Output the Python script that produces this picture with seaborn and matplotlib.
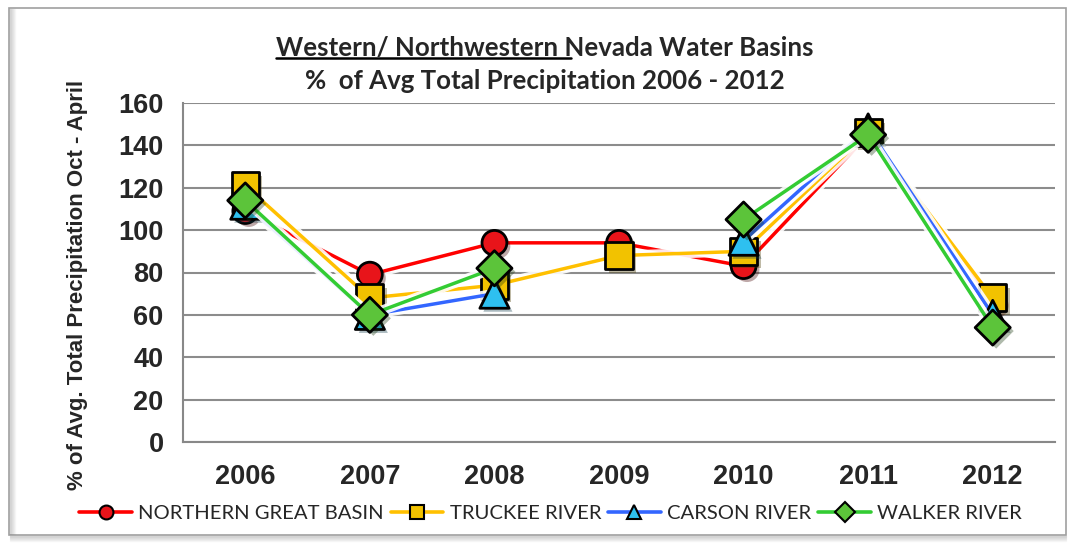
import numpy as np
import pandas as pd
import matplotlib
matplotlib.use("Agg")
import matplotlib.pyplot as plt
import matplotlib.patheffects as pe
from matplotlib.lines import Line2D
from matplotlib.patches import Rectangle
import seaborn as sns

# ---- data -------------------------------------------------------------
years = [2006, 2007, 2008, 2009, 2010, 2011, 2012]
northern_great_basin = [109, 79, 94, 94, 83, 145, 66]
truckee_river = [121, 68, 74, 88, 90, 146, 68]
carson_river = [112, 60, 70, np.nan, 95, 148, 60]
walker_river = [114, 60, 82, np.nan, 105, 145, 54]

series_names = ["NORTHERN GREAT BASIN", "TRUCKEE RIVER", "CARSON RIVER", "WALKER RIVER"]
series_values = [northern_great_basin, truckee_river, carson_river, walker_river]
y_ticks = [0, 20, 40, 60, 80, 100, 120, 140, 160]

# ---- styles -----------------------------------------------------------
line_colors = ["#FF0000", "#FFC000", "#3366FF", "#33CC33"]
face_colors = ["#E8141A", "#F2C200", "#2EC0F0", "#5CC43A"]
marker_shapes = ["o", "s", "^", "D"]
marker_sizes = [320, 380, 440, 320]

rows = []
for name, vals in zip(series_names, series_values):
    seg = 0
    prev_nan = False
    for yr, v in zip(years, vals):
        if np.isnan(v):
            prev_nan = True
            continue
        if prev_nan:
            seg += 1
            prev_nan = False
        rows.append({"series": name, "year": yr, "value": v, "seg": seg})
df = pd.DataFrame(rows)

sns.set_style("white")
plt.rcParams["font.family"] = ["Liberation Sans", "DejaVu Sans"]

fig = plt.figure(figsize=(10.73, 5.44), dpi=100)
fig.patch.set_facecolor("white")
ax = fig.add_axes([183 / 1073, 1 - 442 / 544, 872 / 1073, 339 / 544])

glow = [pe.Stroke(linewidth=7, foreground="white", alpha=0.9), pe.Normal()]

for i, name in enumerate(series_names):
    sub = df[df["series"] == name]
    sns.lineplot(data=sub, x="year", y="value", units="seg", estimator=None,
                 color=line_colors[i], linewidth=2.5, ax=ax, legend=False,
                 zorder=3 + 2 * i, path_effects=glow)
    sns.scatterplot(data=sub, x="year", y="value", marker=marker_shapes[i],
                    s=marker_sizes[i], color=face_colors[i], edgecolor="black",
                    linewidth=2.0, ax=ax, legend=False, zorder=4 + 2 * i,
                    path_effects=[pe.SimplePatchShadow(offset=(2.5, -2.5), alpha=0.35),
                                  pe.Normal()])

# ---- axes -------------------------------------------------------------
ax.set_xlim(2005.5, 2012.5)
ax.set_ylim(0, 160)
ax.set_yticks(y_ticks)
ax.set_yticklabels([str(t) for t in y_ticks], fontsize=19.5, fontweight="bold")
ax.set_xticks(years)
ax.set_xticklabels([str(y) for y in years], fontsize=19.5, fontweight="bold")
ax.set_xticks(np.arange(2005.5, 2013.0, 1.0), minor=True)
ax.tick_params(axis="x", which="major", length=0, pad=16)
ax.tick_params(axis="x", which="minor", length=6, width=1.5, color="#888888", direction="out")
ax.tick_params(axis="y", length=6, width=1.5, color="#888888", direction="out", pad=8)
ax.grid(axis="y", color="#8c8c8c", linewidth=1.5, zorder=0)
ax.set_axisbelow(True)
for side in ["top", "right"]:
    ax.spines[side].set_visible(False)
for side in ["left", "bottom"]:
    ax.spines[side].set_color("#888888")
    ax.spines[side].set_linewidth(1.5)
ax.set_xlabel("")
ax.set_ylabel("% of Avg. Total Precipitation Oct - April", fontsize=16,
              fontweight="bold")
ax.yaxis.set_label_coords((88 - 183) / 872, (442 - 285) / 339)

# ---- legend -----------------------------------------------------------
handles = [Line2D([0], [0], color=line_colors[i], linewidth=2.6,
                  marker=marker_shapes[i], markersize=10,
                  markerfacecolor=face_colors[i], markeredgecolor="black",
                  markeredgewidth=1.5)
           for i in range(len(series_names))]
fig.legend(handles, series_names, loc="center", bbox_to_anchor=(0.513, 0.056),
           ncol=4, frameon=False, handlelength=2.6, handletextpad=0.3,
           columnspacing=0.35, prop={"family": "Lato", "size": 14.6})

# ---- title ------------------------------------------------------------
title_font = {"family": "Lato", "weight": "bold", "size": 18.6}
prefix = "Western/ Northwestern "
line1 = prefix + "Nevada Water Basins"
t1 = fig.text(545 / 1073, 1 - 48 / 544, line1, ha="center", va="center", **title_font)
fig.text(545 / 1073, 1 - 81 / 544, "%  of Avg Total Precipitation 2006 - 2012",
         ha="center", va="center", **title_font)

fig.canvas.draw()
renderer = fig.canvas.get_renderer()
bb = t1.get_window_extent(renderer)
probe = fig.text(0, 0, prefix.rstrip() + "_", alpha=0, **title_font)
pw = probe.get_window_extent(renderer).width
probe.remove()
fig.add_artist(Line2D([bb.x0 / fig.bbox.width, (bb.x0 + pw) / fig.bbox.width],
                      [(bb.y0 + 2) / fig.bbox.height] * 2,
                      color="black", linewidth=1.8))

# ---- frame with shadow -------------------------------------------------
W, H = 1073.0, 544.0
fig.add_artist(Rectangle((9 / W, 1 - 535 / H), (1066 - 9) / W, (535 - 8) / H,
                         transform=fig.transFigure, fill=False,
                         edgecolor="#a0a0a0", linewidth=1.2, zorder=0))
for k in range(6):
    a = 0.3 * (1 - k / 6)
    fig.add_artist(Line2D([(10 + k) / W] * 2, [1 - 534 / H, 1 - 9 / H],
                          color="gray", alpha=a, linewidth=1, transform=fig.transFigure))
    fig.add_artist(Line2D([10 / W, 1066 / W], [1 - (536 + k) / H] * 2,
                          color="gray", alpha=a, linewidth=1, transform=fig.transFigure))

fig.savefig("out.png", dpi=100, facecolor="white")
